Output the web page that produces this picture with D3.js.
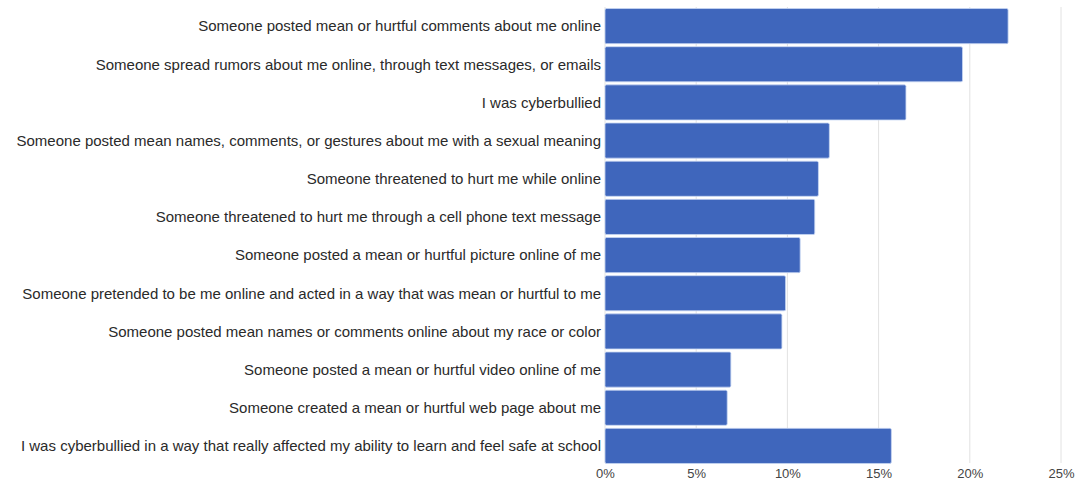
<!DOCTYPE html>
<html>
<head>
<meta charset="utf-8">
<script src="https://cdn.jsdelivr.net/npm/d3@7"></script>
<style>
  body { margin: 0; background: #fff; }
  text { font-family: "Liberation Sans", Arial, sans-serif; }
</style>
</head>
<body>
<div id="plot"></div>
<script>
const categories = [
  "Someone posted mean or hurtful comments about me online",
  "Someone spread rumors about me online, through text messages, or emails",
  "I was cyberbullied",
  "Someone posted mean names, comments, or gestures about me with a sexual meaning",
  "Someone threatened to hurt me while online",
  "Someone threatened to hurt me through a cell phone text message",
  "Someone posted a mean or hurtful picture online of me",
  "Someone pretended to be me online and acted in a way that was mean or hurtful to me",
  "Someone posted mean names or comments online about my race or color",
  "Someone posted a mean or hurtful video online of me",
  "Someone created a mean or hurtful web page about me",
  "I was cyberbullied in a way that really affected my ability to learn and feel safe at school"
];
const values = [22.1, 19.6, 16.5, 12.3, 11.7, 11.5, 10.7, 9.9, 9.7, 6.9, 6.7, 15.7];
const ticks = [0, 5, 10, 15, 20, 25];

const width = 1078, height = 480;
const margin = {top: 7, right: 17, bottom: 15, left: 605};

const svg = d3.select("#plot")
  .append("svg")
  .attr("width", width)
  .attr("height", height);

const x = d3.scaleLinear()
  .domain([0, 25])
  .range([margin.left, width - margin.right]);

const y = d3.scaleBand()
  .domain(categories)
  .range([margin.top, height - margin.bottom])
  .paddingInner(0.08)
  .paddingOuter(0.04);

// gridlines
svg.append("g")
  .selectAll("line")
  .data(ticks)
  .join("line")
  .attr("x1", d => x(d))
  .attr("x2", d => x(d))
  .attr("y1", margin.top)
  .attr("y2", height - margin.bottom - 2)
  .attr("stroke", "#e2e2e2")
  .attr("stroke-width", 1);

// bars
svg.append("g")
  .selectAll("rect")
  .data(values)
  .join("rect")
  .attr("x", x(0))
  .attr("y", (d, i) => y(categories[i]))
  .attr("width", d => x(d) - x(0))
  .attr("height", y.bandwidth())
  .attr("rx", 1.5)
  .attr("fill", "#3f66bc")
  .attr("stroke", "#c7d6f2")
  .attr("stroke-width", 0.8);

// category labels
svg.append("g")
  .selectAll("text")
  .data(categories)
  .join("text")
  .attr("x", margin.left - 4)
  .attr("y", d => y(d) + y.bandwidth() / 2)
  .attr("dy", "0.35em")
  .attr("text-anchor", "end")
  .attr("font-size", "15px")
  .attr("fill", "#2a2a2a")
  .text(d => d);

// x axis tick labels
const xAxis = svg.append("g")
  .attr("transform", `translate(0, ${height - margin.bottom})`)
  .call(d3.axisBottom(x).tickValues(ticks).tickFormat(d => d + "%").tickSize(0).tickPadding(4));
xAxis.select(".domain").remove();
xAxis.selectAll("text")
  .attr("font-size", "13px")
  .attr("font-family", "Liberation Sans, Arial, sans-serif")
  .attr("fill", "#444");
</script>
</body>
</html>
